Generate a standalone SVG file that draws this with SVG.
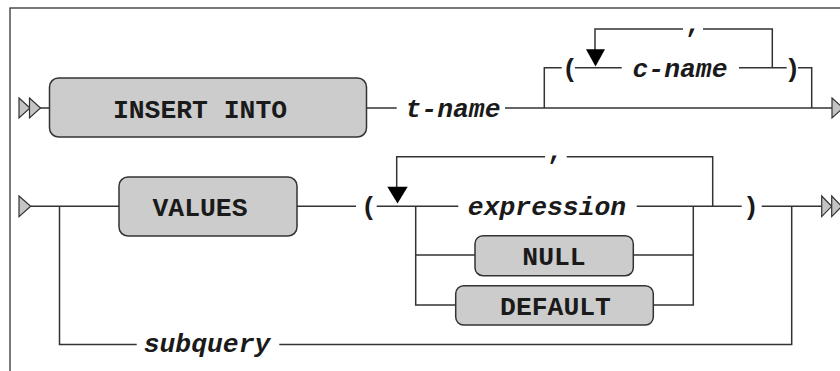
<svg xmlns="http://www.w3.org/2000/svg" width="840" height="371" viewBox="0 0 840 371">
<defs>
<style>
.ln{fill:none;stroke:#333;stroke-width:1.5}
.box{fill:#cccccc;stroke:#333;stroke-width:1.5}
.tri{fill:#c4c4c4;stroke:#333;stroke-width:1.2;stroke-linejoin:miter}
.arr{fill:#000;stroke:none}
.kw{font-family:"Liberation Mono","DejaVu Sans Mono",monospace;font-weight:bold;font-size:26.4px;fill:#1a1a1a;text-anchor:middle}
.id{font-family:"Liberation Mono","DejaVu Sans Mono",monospace;font-weight:bold;font-style:italic;font-size:26.4px;fill:#1a1a1a;text-anchor:middle}
</style>
</defs>
<rect x="10" y="8" width="840" height="380" fill="#fff" stroke="#333" stroke-width="1.3"/>

<g id="connectors">
<path class="ln" d="M40 108H49.5M366.5 108H396.7M505 108H832"/>
<path class="ln" d="M544.3 108V67.7H561.7M575 67.7H621.7M739 67.7H786.7M798 67.7H811.7V108"/>
<path class="ln" d="M772.3 67.7V29H703M683 29H595V50"/>
<polygon class="arr" points="586,49.3 605,49.3 595.5,66.5"/>
<path class="ln" d="M30.7 206.3H119M296.7 206.3H356M376.7 206.3H458.3M636.7 206.3H741.7M761.7 206.3H821.7"/>
<path class="ln" d="M59.5 206.3V344.5H136.7M279.3 344.5H791.7V206.3"/>
<path class="ln" d="M415.7 206.3V305H455.7M415.7 255H475M633.3 255H693.3M653.3 305H693.3V206.3"/>
<path class="ln" d="M712.7 206.3V156.7H566.7M545 156.7H396.7V188"/>
<polygon class="arr" points="387.3,186.7 407.7,186.7 397.5,203.5"/>
</g>

<g id="start1"><polygon class="tri" points="19,98 30,108 19,118"/><polygon class="tri" points="29.5,98 40.5,108 29.5,118"/></g>
<g id="end1"><polygon class="tri" points="832,98 843,108 832,118"/></g>
<g id="start2"><polygon class="tri" points="19,196 30.7,206.3 19,216.6"/></g>
<g id="end2"><polygon class="tri" points="821.7,196 831.7,206.3 821.7,216.6"/><polygon class="tri" points="831.7,196 841.7,206.3 831.7,216.6"/></g>

<g id="insert-into"><rect class="box" x="49.5" y="78" width="317" height="59" rx="9"/><text class="kw" x="200" y="117.5">INSERT INTO</text></g>
<g id="t-name"><text class="id" x="453" y="116.5">t-name</text></g>
<g id="lparen1"><text class="kw" x="570" y="76.5">(</text></g>
<g id="c-name"><text class="id" x="680" y="76.5">c-name</text></g>
<g id="rparen1"><text class="kw" x="792.5" y="76.5">)</text></g>
<g id="comma1"><text class="kw" x="693" y="31.5">,</text></g>

<g id="values"><rect class="box" x="119" y="177" width="178" height="59" rx="9"/><text class="kw" x="200" y="215.5">VALUES</text></g>
<g id="lparen2"><text class="kw" x="369" y="215">(</text></g>
<g id="expression"><text class="id" x="547" y="215">expression</text></g>
<g id="comma2"><text class="kw" x="555" y="159">,</text></g>
<g id="rparen2"><text class="kw" x="751" y="215">)</text></g>
<g id="null"><rect class="box" x="475" y="235.7" width="158.3" height="40" rx="8"/><text class="kw" x="554" y="265">NULL</text></g>
<g id="default"><rect class="box" x="455.7" y="285.7" width="197.6" height="39.3" rx="8"/><text class="kw" x="555.5" y="314.5">DEFAULT</text></g>
<g id="subquery"><text class="id" x="207" y="352">subquery</text></g>
</svg>
